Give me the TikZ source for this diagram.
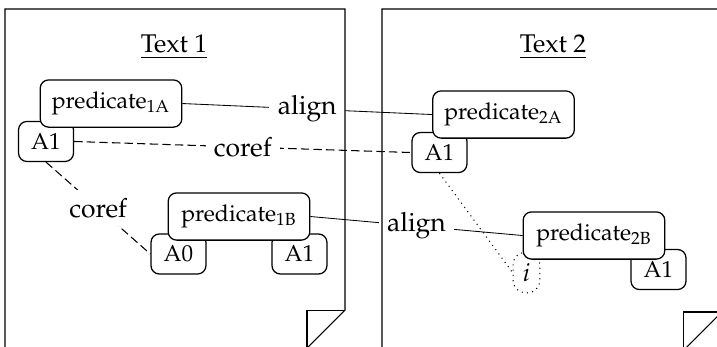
\documentclass[tikz,border=0pt]{standalone}
\usepackage[T1]{fontenc}
\usepackage{mathpazo}
\usepackage{tikz}

\begin{document}
\begin{tikzpicture}[
  box/.style={draw,rounded corners=4pt,fill=white,line width=0.6pt,font=\fontsize{11}{13}\selectfont},
  pred/.style={box,minimum width=2.37cm,minimum height=0.79cm,inner sep=2pt},
  arg/.style={box,minimum width=0.92cm,minimum height=0.67cm,inner sep=2pt},
  rel/.style={fill=white,inner sep=4pt,font=\fontsize{12.6}{15}\selectfont},
  title/.style={anchor=base,font=\fontsize{12.2}{14}\selectfont},
  corefline/.style={line width=0.5pt,dash pattern=on 4pt off 2pt},
  page/.style={draw,line width=0.5pt}
]
\clip (0,0) rectangle (12,5.791);

% Titles
\node[title] (title1) at (2.912,4.904) {\underline{Text 1}};
\node[title] (title2) at (9.255,4.904) {\underline{Text 2}};

% Arguments
\node[arg] (a1a) at (0.770,3.423) {A1};
\node[arg] (a1b) at (7.355,3.238) {A1};
\node[arg] (a0) at (2.987,1.540) {A0};
\node[arg] (a1c) at (5.012,1.540) {A1};
\node[arg] (a1d) at (11.021,1.280) {A1};
\node[draw,dotted,line width=0.5pt,rounded corners=6pt,minimum width=0.45cm,minimum height=0.68cm,inner sep=0pt,font=\fontsize{12}{14}\selectfont] (imp) at (8.812,1.230) {$i$};

% Predicates
\node[pred] (pred1a) at (1.858,4.058) {predicate\textsubscript{1A}};
\node[pred] (pred2a) at (8.427,3.874) {predicate\textsubscript{2A}};
\node[pred] (pred1b) at (4.000,2.167) {predicate\textsubscript{1B}};
\node[pred] (pred2b) at (9.941,1.849) {predicate\textsubscript{2B}};

% Links
\draw (pred1a.east) -- node[rel] (align1) {align} (pred2a.west);
\draw[corefline] (a1a.east) -- node[rel] (coref1) {coref} (a1b.west);
\draw[corefline] (a1a.south) -- node[rel] (coref2) {coref} (a0.west);
\draw (pred1b.east) -- node[rel] (align2) {align} (pred2b.west);
\draw[dotted,line width=0.5pt] (a1b.south) -- (imp.west);

% Pages
\draw[page] (0.084,-0.05) -- (0.084,5.640) -- (5.774,5.640) -- (5.774,0.602) -- (5.138,-0.034);
\draw[page] (5.138,-0.05) -- (5.138,0.602) -- (5.774,0.602);
\draw[page] (6.393,-0.05) -- (6.393,5.640) -- (12.083,5.640) -- (12.083,0.569) -- (11.447,-0.067);
\draw[page] (11.447,-0.07) -- (11.447,0.569) -- (12.083,0.569);
\end{tikzpicture}
\end{document}
